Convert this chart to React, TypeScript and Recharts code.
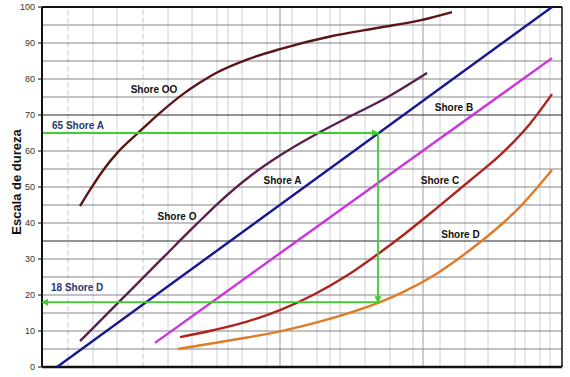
import React from 'react';
import { LineChart, Line, XAxis, YAxis, ReferenceLine, ReferenceDot } from 'recharts';

// x is an arbitrary horizontal unit (chart has no x labels), domain 0..520
const shoreOO = [
  { x: 38, y: 44.7 }, { x: 48, y: 49.2 }, { x: 61, y: 54.6 }, { x: 75, y: 59.4 }, { x: 96, y: 65 },
  { x: 118, y: 70.6 }, { x: 141, y: 75.8 }, { x: 158, y: 79 }, { x: 175, y: 81.8 },
  { x: 205, y: 85.4 }, { x: 238, y: 88.3 }, { x: 288, y: 91.8 }, { x: 338, y: 94.3 }, { x: 378, y: 96.3 },
  { x: 410, y: 98.6 },
];
const shoreO = [
  { x: 38, y: 7.2 }, { x: 76, y: 17.8 }, { x: 119, y: 29.8 }, { x: 155, y: 39.8 }, { x: 175, y: 45.2 },
  { x: 208, y: 53 }, { x: 241, y: 59.3 }, { x: 275, y: 64.8 }, { x: 308, y: 69.6 }, { x: 338, y: 73.8 },
  { x: 385, y: 81.7 },
];
const shoreA = [{ x: 15, y: 0 }, { x: 510, y: 100 }];
const shoreB = [{ x: 113, y: 6.7 }, { x: 510, y: 85.8 }];
const shoreC = [
  { x: 138, y: 8.3 }, { x: 171, y: 10.2 }, { x: 205, y: 12.6 }, { x: 238, y: 15.8 }, { x: 271, y: 20 },
  { x: 305, y: 25.4 }, { x: 338, y: 31.8 }, { x: 361, y: 36.6 }, { x: 395, y: 44.2 }, { x: 428, y: 51.8 },
  { x: 461, y: 59.6 }, { x: 488, y: 67.6 }, { x: 510, y: 75.8 },
];
const shoreD = [
  { x: 136, y: 5 }, { x: 171, y: 6.6 }, { x: 205, y: 8.2 }, { x: 238, y: 9.9 }, { x: 271, y: 12.1 },
  { x: 305, y: 14.8 }, { x: 338, y: 18 }, { x: 361, y: 20.8 }, { x: 395, y: 26 }, { x: 428, y: 32.5 },
  { x: 461, y: 40 }, { x: 478, y: 44.5 }, { x: 510, y: 54.7 },
];
// conversion example: 65 Shore A -> 18 Shore D
const conversion = [
  { x: 0, y: 65, arrow: '' }, { x: 336, y: 65, arrow: 'right' }, { x: 336, y: 18, arrow: 'down' }, { x: 0, y: 18, arrow: 'left' },
];
const yTicks = [0, 10, 20, 30, 40, 50, 60, 70, 80, 90, 100];
const hGrid = [5, 10, 15, 20, 25, 30, 40, 45, 50, 55, 60, 65, 75, 80, 85, 90, 95];
const hGridDark = [35, 70];
const vGrid = [51, 75, 126, 150, 175, 186, 200, 225, 250, 275, 288, 298, 323, 348, 371, 398, 423, 446, 473, 483, 498, 508];
const vGridDashed = [26, 101];
const vGridDark = [238, 381];

const labels = [
  { text: 'Shore OO', x: 112, y: 77.2, color: '#111', anchor: 'middle' },
  { text: '65 Shore A', x: 10, y: 67.2, color: '#2b3770', anchor: 'start' },
  { text: '18 Shore D', x: 9, y: 22.2, color: '#2b3770', anchor: 'start' },
  { text: 'Shore A', x: 240.5, y: 51.7, color: '#111', anchor: 'middle' },
  { text: 'Shore O', x: 135, y: 41.7, color: '#111', anchor: 'middle' },
  { text: 'Shore B', x: 412, y: 72.2, color: '#111', anchor: 'middle' },
  { text: 'Shore C', x: 398, y: 51.7, color: '#111', anchor: 'middle' },
  { text: 'Shore D', x: 418.5, y: 36.9, color: '#111', anchor: 'middle' },
];

const GREEN = '#3ccf2e';

const ArrowDot = (props: any) => {
  const { cx, cy, payload, index } = props;
  if (cx == null || cy == null || !payload || !payload.arrow) return <g key={`a${index}`} />;
  let pts = '';
  if (payload.arrow === 'right') pts = `${cx + 1},${cy} ${cx - 6},${cy - 3.5} ${cx - 6},${cy + 3.5}`;
  if (payload.arrow === 'down') pts = `${cx},${cy + 1} ${cx - 3.5},${cy - 6} ${cx + 3.5},${cy - 6}`;
  if (payload.arrow === 'left') pts = `${cx - 1},${cy} ${cx + 6},${cy - 3.5} ${cx + 6},${cy + 3.5}`;
  return <polygon key={`a${index}`} points={pts} fill={GREEN} />;
};

const yLabel = () => (
  <text
    transform="translate(16,182) rotate(-90)"
    textAnchor="middle"
    dominantBaseline="central"
    fontSize={13}
    fontWeight="bold"
    fill="#111"
    fontFamily="Arial, 'Liberation Sans', sans-serif"
  >
    Escala de dureza
  </text>
);

export default function App() {
  return (
    <div style={{ position: 'absolute', left: 0, top: 0, width: 570, height: 377, background: '#fff', fontFamily: "Arial, 'Liberation Sans', sans-serif" }}>
      <LineChart width={570} height={377} margin={{ top: 7, right: 8, bottom: 10, left: 0 }}>
        <XAxis type="number" dataKey="x" domain={[0, 520]} hide allowDuplicatedCategory={false} />
        <YAxis
          type="number"
          dataKey="y"
          domain={[0, 100]}
          ticks={yTicks}
          width={42}
          tickSize={4}
          tickMargin={3}
          tick={{ fontSize: 9, fill: '#333' }}
          tickLine={{ stroke: '#111', strokeWidth: 1 }}
          axisLine={{ stroke: '#111', strokeWidth: 2 }}
          label={yLabel}
        />
        {vGrid.map((v) => (
          <ReferenceLine key={`v${v}`} x={v} stroke="#ccd0e0" strokeWidth={1} />
        ))}
        {vGridDashed.map((v) => (
          <ReferenceLine key={`vd${v}`} x={v} stroke="#c2c5d2" strokeWidth={1} strokeDasharray="5 3" />
        ))}
        {vGridDark.map((v) => (
          <ReferenceLine key={`vk${v}`} x={v} stroke="#9a9a9a" strokeWidth={1} />
        ))}
        {hGrid.map((v) => (
          <ReferenceLine key={`h${v}`} y={v} stroke="#858585" strokeWidth={1.2} />
        ))}
        {hGridDark.map((v) => (
          <ReferenceLine key={`hk${v}`} y={v} stroke="#2a2a2a" strokeWidth={1.2} />
        ))}
        <ReferenceLine y={100} stroke="#111" strokeWidth={2} />
        <ReferenceLine y={0} stroke="#111" strokeWidth={2.5} />
        <ReferenceLine x={520} stroke="#111" strokeWidth={1.5} />

        <Line data={shoreOO} dataKey="y" type="monotone" stroke="#5a1616" strokeWidth={2.4} dot={false} isAnimationActive={false} />
        <Line data={shoreO} dataKey="y" type="monotone" stroke="#5a2050" strokeWidth={2.4} dot={false} isAnimationActive={false} />
        <Line data={shoreA} dataKey="y" type="linear" stroke="#17178f" strokeWidth={2.4} dot={false} isAnimationActive={false} />
        <Line data={shoreB} dataKey="y" type="linear" stroke="#cc33dd" strokeWidth={2.4} dot={false} isAnimationActive={false} />
        <Line data={shoreC} dataKey="y" type="monotone" stroke="#b0231c" strokeWidth={2.4} dot={false} isAnimationActive={false} />
        <Line data={shoreD} dataKey="y" type="monotone" stroke="#e07a25" strokeWidth={2.4} dot={false} isAnimationActive={false} />
        <Line data={conversion} dataKey="y" type="linear" stroke={GREEN} strokeWidth={1.8} dot={ArrowDot} isAnimationActive={false} />

        {labels.map((l) => (
          <ReferenceDot
            key={l.text}
            x={l.x}
            y={l.y}
            r={0}
            shape={(p: any) => (
              <text
                x={p.cx}
                y={p.cy}
                textAnchor={l.anchor}
                dominantBaseline="central"
                fontSize={10}
                fontWeight="bold"
                fill={l.color}
                fontFamily="Arial, 'Liberation Sans', sans-serif"
              >
                {l.text}
              </text>
            )}
          />
        ))}
      </LineChart>
    </div>
  );
}
